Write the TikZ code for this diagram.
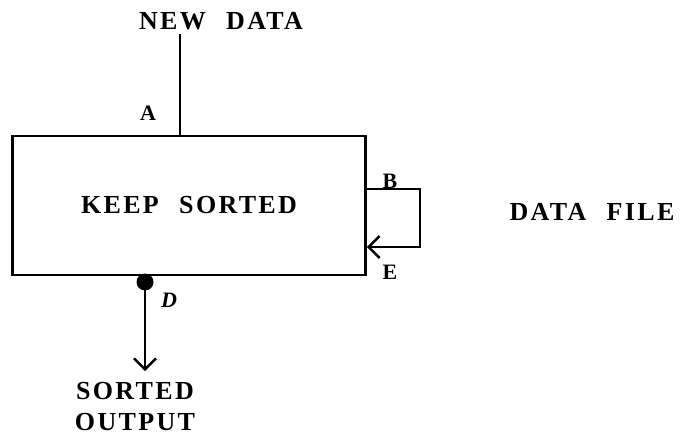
\documentclass[tikz,border=0pt]{standalone}
\usepackage{fontspec}
\usetikzlibrary{arrows.meta}
\newfontfamily\twfont[LetterSpace=9,WordSpace=2.3]{Liberation Serif}
\newfontfamily\lblfont{Liberation Serif}
\begin{document}
\begin{tikzpicture}[x=1pt,y=-1pt,
  ln/.style={line width=2.8pt},
  bigfont/.style={font=\twfont\bfseries\fontsize{26}{31}\selectfont},
  big/.style={bigfont, inner sep=0pt},
  lbl/.style={font=\lblfont\bfseries\fontsize{22}{24}\selectfont, inner sep=0pt},
  barb/.style={-{Straight Barb[length=11pt,width=22pt,line width=2.4pt]}}
]
\useasboundingbox (0,0) rectangle (688,441);
% main box
\node[ln, draw, rectangle, minimum width=353pt, minimum height=139pt, inner sep=0pt,
      bigfont] (box) at (189,205.5) {KEEP SORTED};
% texts
\node[big] (newdata) at (221,21) {NEW DATA};
\node[big] (datafile) at (592,212) {DATA FILE};
\node[big, align=center, text width=150pt] (out) at (135,407) {SORTED\\OUTPUT};
\node[lbl] (A) at (148,113) {A};
\node[lbl] (B) at (390,181) {B};
\node[lbl] (E) at (390,272) {E};
\node[lbl, font=\lblfont\bfseries\itshape\fontsize{22}{24}\selectfont] (D) at (169,300) {D};
% connectors
\coordinate (inTop) at (180,34);
\draw[ln] (inTop) -- (inTop |- box.north);
\coordinate (bOut) at (box.east |- 0,189);
\coordinate (eIn) at (box.east |- 0,247);
\coordinate (loopR1) at (420,189);
\coordinate (loopR2) at (420,247);
\draw[ln, barb] (bOut) -- (loopR1) -- (loopR2) -- (eIn);
\node[circle, fill=black, minimum size=17pt, inner sep=0pt] (dot) at (145,282) {};
\coordinate (outTip) at (145,371);
\draw[ln, barb] (dot.center) -- (outTip);
\end{tikzpicture}
\end{document}
